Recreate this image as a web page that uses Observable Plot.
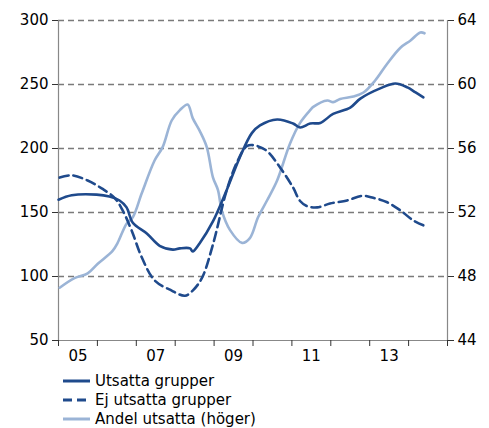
<!DOCTYPE html>
<html>
<head>
<meta charset="utf-8">
<script src="https://cdn.jsdelivr.net/npm/d3@7"></script>
<script src="https://cdn.jsdelivr.net/npm/@observablehq/plot@0.6"></script>
<style>
  body { margin: 0; background: #fff; font-family: "DejaVu Sans", Verdana, sans-serif; }
  #chart svg { display: block; }
  #legend { margin-left: 63px; margin-top: 1px; font-size: 15px; color: #000; }
  .row { display: flex; align-items: center; height: 19px; }
  .row svg { margin-right: 5px; }
</style>
</head>
<body>
<div id="chart"></div>
<div id="legend"></div>
<script>
// Tick labels
const yearLabels = ["05", "07", "09", "11", "13"];
const yearLabelPos = [2005.5, 2007.5, 2009.5, 2011.5, 2013.5];
const leftTicks = [50, 100, 150, 200, 250, 300];
const rightTicks = [44, 48, 52, 56, 60, 64];

// Series: Utsatta grupper (left axis)
const utsattaX = [2005.00, 2005.34, 2005.98, 2006.31, 2006.57, 2006.75, 2006.91, 2007.27, 2007.60, 2007.94, 2008.12, 2008.38, 2008.45, 2008.63, 2008.97, 2009.33, 2009.66, 2009.97, 2010.18, 2010.62, 2011.03, 2011.21, 2011.47, 2011.73, 2012.06, 2012.50, 2012.76, 2013.27, 2013.66, 2013.97, 2014.18, 2014.38];
const utsattaY = [160, 163.5, 164, 162.5, 159.4, 154, 142, 133.6, 124, 121, 122, 122, 119.5, 126, 143, 168, 193, 212, 218, 222.7, 219.5, 216.4, 219.5, 220, 227, 232, 239, 247, 250.8, 247.7, 243.8, 240];

// Series: Ej utsatta grupper (left axis)
const ejX = [2005.03, 2005.34, 2005.75, 2006.11, 2006.44, 2006.65, 2006.88, 2007.14, 2007.47, 2007.91, 2008.25, 2008.45, 2008.69, 2008.97, 2009.33, 2009.61, 2009.85, 2010.10, 2010.36, 2010.70, 2011.03, 2011.21, 2011.39, 2011.65, 2011.98, 2012.42, 2012.81, 2013.09, 2013.45, 2013.79, 2014.12, 2014.38];
const ejY = [177.3, 179, 175, 168.8, 161.5, 151.6, 136, 115, 97, 89, 85, 89, 99, 125, 168, 190.6, 202, 202, 198, 185, 169.5, 159, 155, 154, 157, 159.4, 163, 161.5, 158, 151.6, 143.8, 140];

// Series: Andel utsatta (höger axis, percent)
const andelX = [2005.03, 2005.41, 2005.75, 2006.01, 2006.39, 2006.52, 2006.75, 2006.91, 2007.14, 2007.47, 2007.68, 2007.91, 2008.12, 2008.32, 2008.45, 2008.63, 2008.81, 2008.97, 2009.10, 2009.20, 2009.41, 2009.72, 2009.92, 2010.13, 2010.36, 2010.62, 2010.95, 2011.21, 2011.47, 2011.55, 2011.91, 2012.06, 2012.24, 2012.58, 2012.84, 2013.14, 2013.45, 2013.79, 2014.05, 2014.30, 2014.41];
const andelY = [47.3, 47.9, 48.2, 48.8, 49.6, 50.1, 51.3, 51.7, 53.2, 55.25, 56.1, 57.75, 58.4, 58.75, 57.9, 57.1, 56.1, 54.2, 53.4, 52.1, 50.9, 50.1, 50.4, 51.7, 52.75, 54, 56.3, 57.6, 58.4, 58.6, 59, 58.9, 59.1, 59.25, 59.5, 60.25, 61.3, 62.3, 62.75, 63.25, 63.2];

const seriesNames = ["Utsatta grupper", "Ej utsatta grupper", "Andel utsatta (höger)"];
const seriesColors = ["#1f4a8c", "#1f4a8c", "#9bb4d6"];
const seriesDash = [null, "9,5", null];

// right axis (44..64) -> left scale (50..300)
const toLeft = r => 50 + (r - 44) * 12.5;
const fromLeft = v => 44 + (v - 50) / 12.5;

const utsatta = d3.zip(utsattaX, utsattaY).map(([x, y]) => ({x, y}));
const ej = d3.zip(ejX, ejY).map(([x, y]) => ({x, y}));
const andel = d3.zip(andelX, andelY).map(([x, y]) => ({x, y: toLeft(y)}));
const labels = d3.zip(yearLabelPos, yearLabels).map(([x, t]) => ({x, t}));

const grey = "#7a7a7a";

const plot = Plot.plot({
  width: 489,
  height: 370,
  marginLeft: 58,
  marginRight: 42,
  marginTop: 20,
  marginBottom: 30,
  style: { fontFamily: "DejaVu Sans, Verdana, sans-serif", fontSize: "15px", color: "#000", background: "#fff" },
  x: { domain: [2005, 2015] },
  y: { domain: [50, 300] },
  marks: [
    Plot.ruleY(leftTicks.filter(d => d > 50), { stroke: grey, strokeWidth: 1.7, strokeDasharray: "6,4" }),
    Plot.ruleY([50], { stroke: "#888", strokeWidth: 1.2 }),
    Plot.ruleX([2005, 2015], { stroke: "#888", strokeWidth: 1.2 }),
    Plot.axisY({ anchor: "left", ticks: leftTicks, tickSize: 6, tickPadding: 4, stroke: "#333", label: null, fontSize: 15 }),
    Plot.axisY({ anchor: "right", ticks: rightTicks.map(toLeft), tickFormat: d => String(Math.round(fromLeft(d))), tickSize: 6, tickPadding: 4, stroke: "#333", label: null, fontSize: 15 }),
    Plot.axisX({ ticks: d3.range(2005, 2016), tickFormat: () => "", tickSize: 6, stroke: "#333", label: null }),
    Plot.text(labels, { x: "x", y: 50, text: "t", dy: 16, fontSize: 15, fill: "#000" }),
    Plot.line(andel, { x: "x", y: "y", stroke: seriesColors[2], strokeWidth: 2.6, curve: "catmull-rom" }),
    Plot.line(ej, { x: "x", y: "y", stroke: seriesColors[1], strokeWidth: 2.6, strokeDasharray: seriesDash[1], curve: "catmull-rom" }),
    Plot.line(utsatta, { x: "x", y: "y", stroke: seriesColors[0], strokeWidth: 2.6, curve: "catmull-rom" })
  ]
});
document.getElementById("chart").appendChild(plot);

const legend = document.getElementById("legend");
seriesNames.forEach((name, i) => {
  const row = document.createElement("div");
  row.className = "row";
  const dash = seriesDash[i] ? `stroke-dasharray="${seriesDash[i]}"` : "";
  row.innerHTML = `<svg width="27" height="6"><line x1="0" y1="3" x2="27" y2="3" stroke="${seriesColors[i]}" stroke-width="3" ${dash}/></svg><span>${name}</span>`;
  legend.appendChild(row);
});
</script>
</body>
</html>
